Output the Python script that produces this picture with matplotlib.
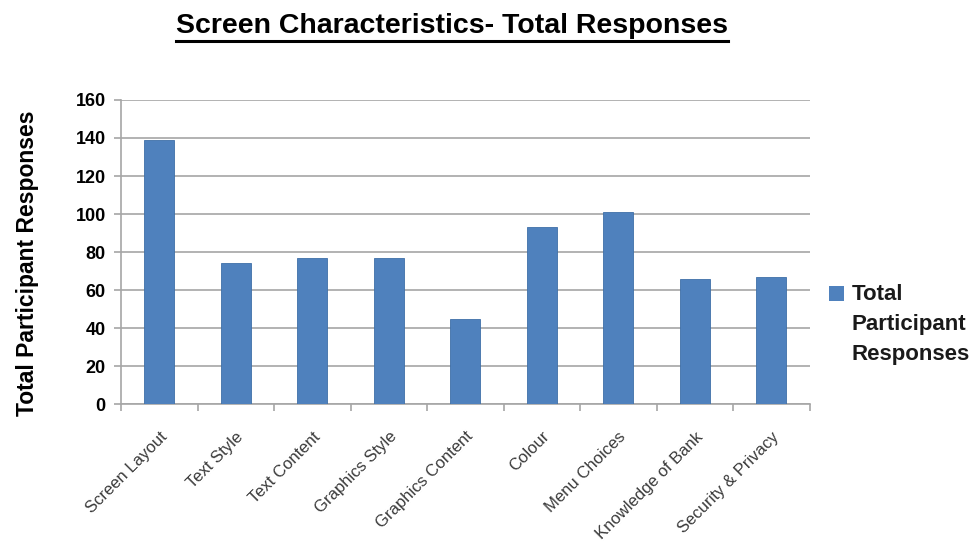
import matplotlib
matplotlib.use("Agg")
import matplotlib.pyplot as plt
from matplotlib.lines import Line2D
from matplotlib.patches import Rectangle
from matplotlib.legend_handler import HandlerPatch

categories = ["Screen Layout", "Text Style", "Text Content", "Graphics Style",
              "Graphics Content", "Colour", "Menu Choices", "Knowledge of Bank",
              "Security & Privacy"]
responses = [139, 74, 77, 77, 45, 93, 101, 66, 67]
yticks = [0, 20, 40, 60, 80, 100, 120, 140, 160]

BLUE = "#4F81BD"

plt.rcParams['font.family'] = ['Liberation Sans', 'DejaVu Sans']


# legend key sits next to the first line of a multi-line label (Excel style)
class TopSquare(HandlerPatch):
    def create_artists(self, legend, orig_handle, xdescent, ydescent,
                       width, height, fontsize, trans):
        s = 0.68 * fontsize
        top = -ydescent + height
        p = Rectangle((-xdescent, top - s + 0.04 * fontsize), s, s,
                      facecolor=BLUE, edgecolor="none", transform=trans)
        return [p]


fig = plt.figure(figsize=(9.79, 5.42), dpi=100)
ax = fig.add_axes([0.1236, 0.2546, 0.7034, 0.5609])

x = list(range(len(categories)))
bars = ax.bar(x, responses, width=0.39, color=BLUE, edgecolor="#3F6FA8",
              linewidth=0.6, zorder=3, label="Total\nParticipant\nResponses")

ax.set_xlim(-0.5, len(categories) - 0.5)
ax.set_ylim(0, 160)
ax.set_yticks(yticks)
ax.set_yticklabels([str(v) for v in yticks], fontsize=13, fontweight="bold")
ax.yaxis.grid(True, color="#a6a6a6", linewidth=1.2, zorder=0)
ax.set_axisbelow(True)

# category ticks sit between bars, labels at bar centres
ax.set_xticks([i - 0.5 for i in range(len(categories) + 1)])
ax.set_xticklabels([])
ax.set_xticks(x, minor=True)
ax.set_xticklabels(categories, minor=True, rotation=45, ha="right",
                   rotation_mode="anchor", fontsize=12, color="#3a3a3a")
ax.tick_params(axis="x", which="minor", length=0, pad=18)
ax.tick_params(axis="x", which="major", length=5, color="#a6a6a6", width=1.2)
ax.tick_params(axis="y", length=5, color="#a6a6a6", width=1.2, pad=6)

for s in ["top", "right"]:
    ax.spines[s].set_visible(False)
for s in ["left", "bottom"]:
    ax.spines[s].set_color("#a6a6a6")
    ax.spines[s].set_linewidth(1.2)

ax.set_ylabel("Total Participant Responses", fontsize=16.5, fontweight="bold")
ax.yaxis.set_label_coords(-0.119, 0.464)

leg = ax.legend(handler_map={type(bars): TopSquare()},
                loc="upper left", bbox_to_anchor=(0.835, 0.496),
                bbox_transform=fig.transFigure, frameon=False, borderpad=0,
                fontsize=16, handlelength=0.68, handleheight=5.2,
                handletextpad=0.35)
for t in leg.get_texts():
    t.set_fontweight("bold")
    t.set_color("#1a1a1a")
    t.set_linespacing(1.55)

title = fig.text(0.462, 0.952, "Screen Characteristics- Total Responses",
                 ha="center", va="center", fontsize=20.5, fontweight="bold")
fig.canvas.draw()
bb = title.get_window_extent().transformed(fig.transFigure.inverted())
fig.add_artist(Line2D([bb.x0, bb.x1], [bb.y0 - 0.003, bb.y0 - 0.003],
                      transform=fig.transFigure, color="black", linewidth=2.2))

fig.savefig("out.png", dpi=100)
